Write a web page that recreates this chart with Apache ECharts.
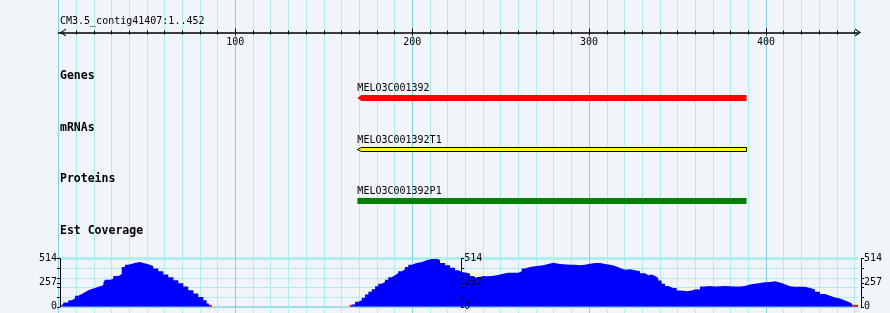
<!DOCTYPE html>
<html><head><meta charset="utf-8">
<script src="https://cdn.jsdelivr.net/npm/echarts@6/dist/echarts.min.js"></script>
<style>html,body{margin:0;padding:0;background:#f1f5fa}#c{width:890px;height:313px}</style>
</head><body><div id="c"></div><script>
// ---------------- data ----------------
const regionTitle = 'CM3.5_contig41407:1..452';
const regionMin = 0, regionMax = 452;
const rulerLabels = [100, 200, 300, 400];
const trackNames = ['Genes', 'mRNAs', 'Proteins', 'Est Coverage'];
const featureNames = ['MELO3C001392', 'MELO3C001392T1', 'MELO3C001392P1'];
const featureStart = [169, 169, 169];
const featureEnd = [389, 389, 389];
const covMax = 514;
const covLabels = [0, 257, 514];
const covTicks = [0, 102.8, 205.6, 257, 308.4, 411.2, 514];
const covGridLines = [0, 102.8, 205.6, 308.4, 411.2, 514];
// coverage bins (left edge position in bp, value)
const covPos1 = [2.2, 3.0, 5.6, 7.5, 9.4, 11.2, 13.2, 15.0, 16.9, 19.7, 22.6, 25.4, 26.3, 29.2, 31.0, 33.9, 35.8, 37.6, 39.5, 43.3, 46.1, 48.0, 50.8, 53.6, 56.5, 59.3, 62.1, 65.0, 67.8, 70.6, 73.4, 76.3, 79.1, 81.9, 83.8, 85.1];
const covVal1 = [21, 46, 71, 88, 117, 138, 156, 177, 195, 213, 231, 255, 290, 301, 330, 351, 426, 450, 468, 479, 468, 454, 436, 408, 380, 344, 316, 284, 252, 216, 178, 142, 106, 71, 35, 0];
const covPos2 = [166.0, 167.7, 169.5, 171.5, 173.3, 175.2, 177.1, 179.0, 180.8, 182.8, 184.6, 186.5, 188.4, 190.3, 192.1, 194.1, 195.9, 197.8, 199.7, 202.5, 205.4, 208.2, 211.0, 213.9, 215.7, 218.6, 221.4, 224.2, 226.1, 228.0, 230.8, 232.7, 234.5, 236.5, 238.3, 240.2, 242.1, 244.9, 247.8, 249.6, 251.5, 254.3, 257.2, 260.0, 261.9, 263.7, 266.6, 270.4, 274.1, 276.9, 279.8, 282.6, 285.4, 289.2, 292.0, 294.9, 297.7, 300.5, 303.4, 306.2, 309.0, 311.8, 314.7, 317.5, 320.3, 323.1, 326.0, 328.8, 331.6, 333.5, 335.4, 337.3, 339.1, 341.0, 342.9, 344.8, 347.6, 349.5, 352.3, 355.1, 358.0, 360.2, 362.7, 365.5, 368.3, 371.2, 374.0, 376.8, 379.6, 382.5, 385.3, 388.1, 390.9, 393.8, 396.6, 399.4, 402.3, 405.1, 407.9, 410.7, 413.6, 416.4, 419.2, 422.0, 424.9, 427.7, 430.5, 433.4, 436.2, 439.0, 441.8, 444.7, 447.5, 448.8];
const covVal2 = [25, 53, 71, 96, 131, 160, 188, 220, 245, 266, 290, 316, 337, 358, 380, 401, 426, 450, 468, 479, 497, 510, 514, 500, 468, 444, 418, 390, 372, 365, 354, 330, 309, 319, 330, 326, 330, 337, 344, 354, 365, 365, 365, 380, 408, 426, 436, 444, 458, 472, 461, 454, 450, 450, 444, 450, 461, 468, 468, 458, 450, 436, 415, 397, 401, 390, 380, 358, 337, 344, 330, 309, 280, 245, 223, 202, 202, 173, 167, 173, 188, 184, 216, 223, 216, 220, 223, 220, 216, 216, 223, 237, 245, 255, 263, 266, 273, 259, 241, 220, 213, 213, 213, 202, 184, 160, 138, 117, 99, 88, 67, 46, 29, 0];
// zero-valued bins (drawn red)
const zeroStart = [0.9, 85.1, 164.8, 448.8];
const zeroEnd = [2.2, 86.7, 166.0, 452];

// ---------------- layout ----------------
const L = 58.4, R = 32;
const mono = '"DejaVu Sans Mono", monospace';
const minorTicks = []; for (let v = 10; v <= 450; v += 10) if (v % 100) minorTicks.push(v);
const allTicks = []; for (let v = 10; v <= 450; v += 10) allTicks.push(v);
const majorLines = [0].concat(rulerLabels);
const trackLayout = [
  {kind: 'gene', y: 95, h: 6, ly: 88.3},
  {kind: 'mrna', y: 147.5, h: 4, ly: 140},
  {kind: 'protein', y: 198, h: 6, ly: 191}
];
const trackLabelY = [76, 128, 179, 231];
const chevron = 'path://M4,0L8,6L6.8,6L4,1.8L1.2,6L0,6Z';
const COV = 5; // coverage grid index
const noLine = {show: false, onZero: false};

const hiddenX = (gi, extra) => Object.assign({type: 'value', gridIndex: gi, min: regionMin, max: regionMax,
  axisLine: noLine, axisLabel: {show: false}, axisTick: {show: false}, splitLine: {show: false}}, extra || {});
const covY = (extra) => Object.assign({type: 'value', gridIndex: COV, min: 0, max: covMax,
  axisLine: noLine, axisLabel: {show: false}, axisTick: {show: false}, splitLine: {show: false}}, extra || {});
const scaleAxis = (position, offset) => covY({position, offset, z: 5,
  axisLine: {show: true, onZero: false, lineStyle: {color: '#000', width: 1}},
  axisTick: {show: true, length: 3, customValues: covTicks, lineStyle: {color: '#000'}},
  axisLabel: {show: true, customValues: covLabels, margin: 3, color: '#000', fontFamily: mono, fontSize: 10}});
const rulerGrid = () => ({left: L, right: R, top: 32.5, height: 20});

const chart = echarts.init(document.getElementById('c'), null, {renderer: 'canvas'});
chart.setOption({
  animation: false,
  backgroundColor: '#f1f5fa',
  grid: [
    {left: L, right: R, top: 0, bottom: 0},
    rulerGrid(), rulerGrid(), rulerGrid(), rulerGrid(),
    {left: L, right: R, top: 258.7, bottom: 6.2}
  ],
  xAxis: [
    hiddenX(0, {axisTick: {show: false, customValues: minorTicks}, splitLine: {show: true, lineStyle: {color: '#afeeee', width: 1}}}),
    hiddenX(0, {axisTick: {show: false, customValues: majorLines}, splitLine: {show: true, lineStyle: {color: '#87ceeb', width: 1}}}),
    hiddenX(1, {position: 'top',
      axisLine: {show: true, onZero: false, symbol: [chevron, chevron], symbolSize: [8, 6], symbolOffset: [4.6, 0], lineStyle: {color: '#000', width: 1.5}},
      axisTick: {show: true, customValues: allTicks, length: 2, lineStyle: {color: '#000'}},
      axisLabel: {show: true, customValues: rulerLabels, inside: true, margin: 5, color: '#000', fontFamily: mono, fontSize: 10}}),
    hiddenX(2, {position: 'top', axisTick: {show: true, inside: true, customValues: allTicks, length: 2, lineStyle: {color: '#000'}}}),
    hiddenX(3, {position: 'top', axisTick: {show: true, customValues: rulerLabels, length: 4, lineStyle: {color: '#000'}}}),
    hiddenX(4, {position: 'top', axisTick: {show: true, inside: true, customValues: rulerLabels, length: 3, lineStyle: {color: '#000'}}}),
    hiddenX(COV)
  ],
  yAxis: [
    {type: 'value', gridIndex: 0, min: 0, max: 1, show: false},
    {type: 'value', gridIndex: 1, min: 0, max: 1, show: false},
    {type: 'value', gridIndex: 2, min: 0, max: 1, show: false},
    {type: 'value', gridIndex: 3, min: 0, max: 1, show: false},
    {type: 'value', gridIndex: 4, min: 0, max: 1, show: false},
    scaleAxis('left', -1.6),
    scaleAxis('right', -396.8),
    scaleAxis('right', 3),
    covY({axisTick: {show: false, customValues: covGridLines}, splitLine: {show: true, lineStyle: {color: '#afeeee', width: 1}}}),
    covY({axisTick: {show: false, customValues: [covMax]}, splitLine: {show: true, lineStyle: {color: '#afeeee', width: 3}}}),
    covY({axisTick: {show: false, customValues: [0]}, splitLine: {show: true, lineStyle: {color: '#8fd3ea', width: 1.5}}})
  ],
  graphic: [
    {type: 'text', x: 60, y: 21, z: 10, style: {text: regionTitle, fontFamily: mono, fontSize: 10, fill: '#000', verticalAlign: 'middle'}}
  ].concat(trackNames.map((n, i) => ({type: 'text', x: 60, y: trackLabelY[i], z: 10,
    style: {text: n, fontFamily: mono, fontSize: 11.5, fontWeight: 'bold', fill: '#000', verticalAlign: 'middle'}}))),
  series: [
    {
      type: 'custom', xAxisIndex: 0, yAxisIndex: 0, z: 3,
      data: featureNames.map((n, i) => [featureStart[i], featureEnd[i], i]),
      renderItem: (params, api) => {
        const i = api.value(2);
        const x0 = api.coord([api.value(0), 0])[0];
        const x1 = api.coord([api.value(1), 0])[0];
        const t = trackLayout[i];
        const ch = [];
        if (t.kind === 'gene') {
          ch.push({type: 'polygon', shape: {points: [[x0, t.y + t.h / 2], [x0 + 4, t.y], [x1, t.y], [x1, t.y + t.h], [x0 + 4, t.y + t.h]]}, style: {fill: '#ff0000'}});
        } else if (t.kind === 'mrna') {
          ch.push({type: 'polygon', shape: {points: [[x0, t.y + t.h / 2], [x0 + 4, t.y], [x1, t.y], [x1, t.y + t.h], [x0 + 4, t.y + t.h]]}, style: {fill: '#ffff00', stroke: '#000', lineWidth: 1}});
        } else {
          ch.push({type: 'rect', shape: {x: x0, y: t.y, width: x1 - x0, height: t.h}, style: {fill: '#008000'}});
        }
        ch.push({type: 'text', x: x0, y: t.ly, style: {text: featureNames[i], fontFamily: mono, fontSize: 10, fill: '#000', verticalAlign: 'middle', align: 'left'}});
        return {type: 'group', children: ch};
      }
    },
    {
      type: 'line', xAxisIndex: 6, yAxisIndex: 5, step: 'end', showSymbol: false, symbol: 'none', z: 2,
      lineStyle: {width: 0, color: '#0000ff'}, areaStyle: {color: '#0000ff', opacity: 1},
      data: covPos1.map((p, i) => [p, covVal1[i]])
    },
    {
      type: 'line', xAxisIndex: 6, yAxisIndex: 5, step: 'end', showSymbol: false, symbol: 'none', z: 2,
      lineStyle: {width: 0, color: '#0000ff'}, areaStyle: {color: '#0000ff', opacity: 1},
      data: covPos2.map((p, i) => [p, covVal2[i]])
    },
    {
      type: 'custom', xAxisIndex: 6, yAxisIndex: 5, z: 3,
      data: zeroStart.map((s, i) => [s, zeroEnd[i], 0]),
      renderItem: (params, api) => {
        const a = api.coord([api.value(0), api.value(2)]);
        const b = api.coord([api.value(1), api.value(2)]);
        return {type: 'rect', shape: {x: a[0], y: a[1] - 2, width: b[0] - a[0], height: 2}, style: {fill: '#ff0000'}};
      }
    }
  ]
});
</script></body></html>
